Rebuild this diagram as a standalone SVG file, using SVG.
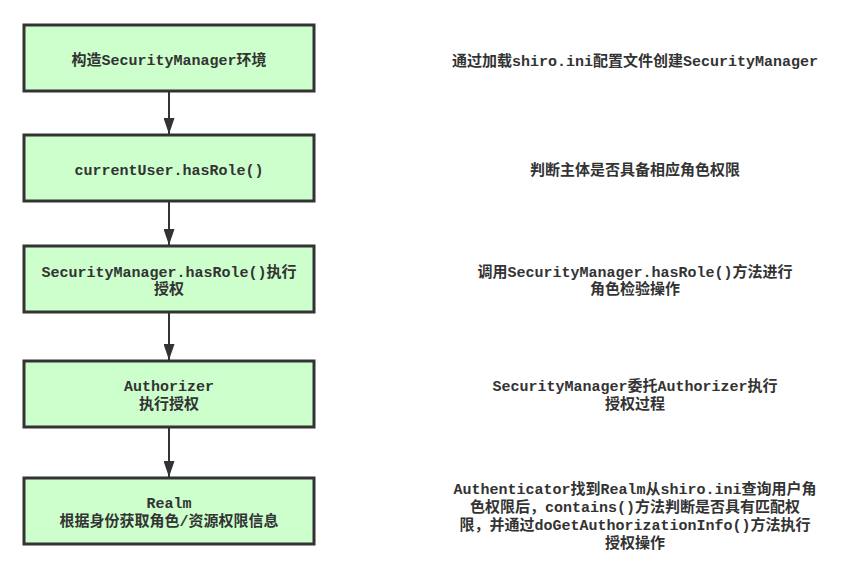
<svg xmlns="http://www.w3.org/2000/svg" width="851" height="570" viewBox="0 0 851 570">
<defs>
<style>
.box{fill:#CCFFCC;stroke:#333333;stroke-width:3}
.t{font-family:"Liberation Mono","Noto Sans CJK SC",monospace;font-size:15px;font-weight:bold;fill:#333333;text-anchor:middle}
.c{stroke:#333333;stroke-width:2;fill:none}
</style>
<marker id="ah" markerWidth="16" markerHeight="11" refX="16" refY="5.5" viewBox="0 0 16 11" markerUnits="userSpaceOnUse" orient="auto">
<path d="M0,0 L16,5.5 L0,11 Z" fill="#333333"/>
</marker>
</defs>
<rect width="851" height="570" fill="#ffffff"/>
<g id="connectors">
<line class="c" x1="169" y1="92" x2="169" y2="134" marker-end="url(#ah)"/>
<line class="c" x1="169" y1="202" x2="169" y2="245" marker-end="url(#ah)"/>
<line class="c" x1="169" y1="313" x2="169" y2="360" marker-end="url(#ah)"/>
<line class="c" x1="169" y1="428" x2="169" y2="477" marker-end="url(#ah)"/>
</g>
<g id="n1">
<rect class="box" x="24" y="25" width="290" height="66"/>
<text class="t" x="169" y="65">构造SecurityManager环境</text>
</g>
<g id="n2">
<rect class="box" x="24" y="135" width="290" height="66"/>
<text class="t" x="169" y="175">currentUser.hasRole()</text>
</g>
<g id="n3">
<rect class="box" x="24" y="246" width="290" height="66"/>
<text class="t" x="169" y="277">SecurityManager.hasRole()执行</text>
<text class="t" x="169" y="294">授权</text>
</g>
<g id="n4">
<rect class="box" x="24" y="361" width="290" height="66"/>
<text class="t" x="169" y="391">Authorizer</text>
<text class="t" x="169" y="409">执行授权</text>
</g>
<g id="n5">
<rect class="box" x="24" y="478" width="290" height="66"/>
<text class="t" x="169" y="508">Realm</text>
<text class="t" x="169" y="526">根据身份获取角色/资源权限信息</text>
</g>
<g id="d1">
<text class="t" x="635" y="66">通过加载shiro.ini配置文件创建SecurityManager</text>
</g>
<g id="d2">
<text class="t" x="635" y="175">判断主体是否具备相应角色权限</text>
</g>
<g id="d3">
<text class="t" x="635" y="277">调用SecurityManager.hasRole()方法进行</text>
<text class="t" x="635" y="294">角色检验操作</text>
</g>
<g id="d4">
<text class="t" x="635" y="391">SecurityManager委托Authorizer执行</text>
<text class="t" x="635" y="409">授权过程</text>
</g>
<g id="d5">
<text class="t" x="635" y="494">Authenticator找到Realm从shiro.ini查询用户角</text>
<text class="t" x="635" y="512">色权限后，contains()方法判断是否具有匹配权</text>
<text class="t" x="635" y="530">限，并通过doGetAuthorizationInfo()方法执行</text>
<text class="t" x="635" y="548">授权操作</text>
</g>
</svg>
